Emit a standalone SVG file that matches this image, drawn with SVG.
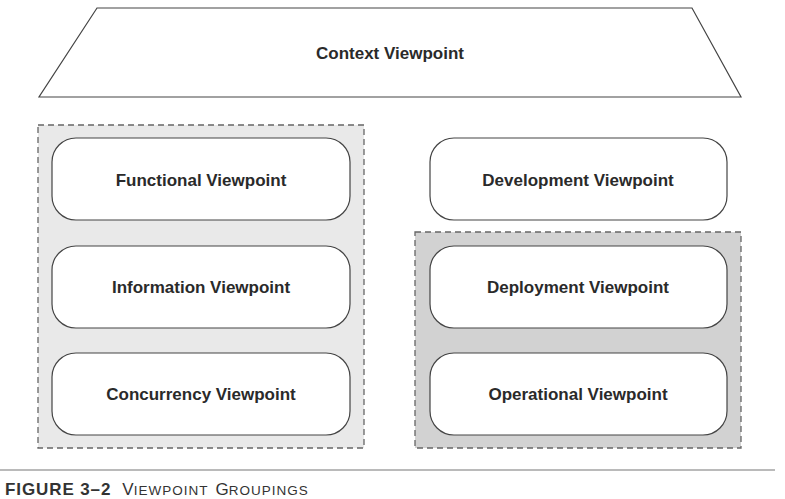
<svg xmlns="http://www.w3.org/2000/svg" width="785" height="499" viewBox="0 0 785 499">
<style>
.box{fill:#fff;stroke:#444;stroke-width:1.2}
.grp{stroke:#666;stroke-width:1.3;stroke-dasharray:6 4}
.lbl{font-family:"Liberation Sans",Arial,sans-serif;font-weight:bold;font-size:17px;fill:#2a2a2a;text-anchor:middle}
.cap{font-family:"Liberation Sans",Arial,sans-serif;fill:#333}
</style>
<rect width="785" height="499" fill="#fff"/>
<g id="context">
<polygon class="box" points="97,8 692,8 741,97 39,97"/>
<text class="lbl" x="390" y="59">Context Viewpoint</text>
</g>
<g id="group-left">
<rect class="grp" x="38" y="125" width="326" height="323" fill="#e9e9e9"/>
</g>
<g id="group-right">
<rect class="grp" x="415" y="232" width="326" height="216" fill="#d2d2d2"/>
</g>
<g id="functional">
<rect class="box" x="52" y="138" width="298" height="82" rx="24"/>
<text class="lbl" x="201" y="186">Functional Viewpoint</text>
</g>
<g id="information">
<rect class="box" x="52" y="246" width="298" height="82" rx="24"/>
<text class="lbl" x="201" y="293">Information Viewpoint</text>
</g>
<g id="concurrency">
<rect class="box" x="52" y="353" width="298" height="82" rx="24"/>
<text class="lbl" x="201" y="400">Concurrency Viewpoint</text>
</g>
<g id="development">
<rect class="box" x="430" y="138" width="297" height="82" rx="24"/>
<text class="lbl" x="578" y="186">Development Viewpoint</text>
</g>
<g id="deployment">
<rect class="box" x="430" y="246" width="297" height="82" rx="24"/>
<text class="lbl" x="578" y="293">Deployment Viewpoint</text>
</g>
<g id="operational">
<rect class="box" x="430" y="353" width="297" height="82" rx="24"/>
<text class="lbl" x="578" y="400">Operational Viewpoint</text>
</g>
<g id="connectors"></g>
<g id="caption">
<line x1="0" y1="470" x2="775" y2="470" stroke="#777" stroke-width="1.2"/>
<text class="cap" x="5" y="495" font-size="17"><tspan font-weight="bold" letter-spacing="0.9">FIGURE 3–2</tspan><tspan dx="11">V</tspan><tspan font-size="13.5" letter-spacing="1">IEWPOINT</tspan><tspan dx="7">G</tspan><tspan font-size="13.5" letter-spacing="1">ROUPINGS</tspan></text>
</g>
</svg>
